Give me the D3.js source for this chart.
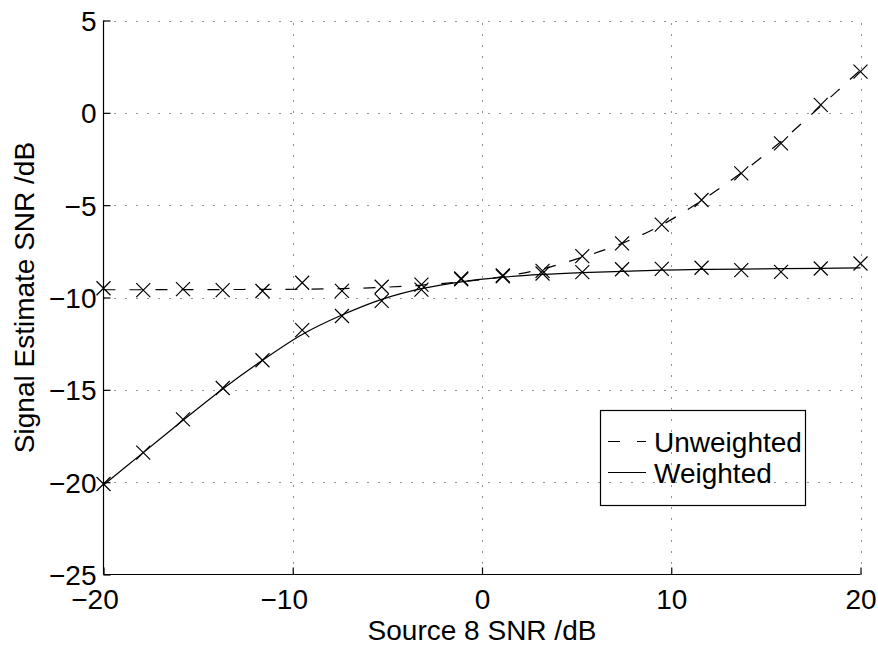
<!DOCTYPE html>
<html><head><meta charset="utf-8">
<script src="https://cdn.jsdelivr.net/npm/d3@7"></script>
<style>
body{margin:0;background:#fff}
svg{display:block}
text{font-family:"Liberation Sans",Arial,Helvetica,sans-serif;fill:#000}
</style>
</head><body>
<svg id="chart" width="878" height="645"></svg>
<script>
// ---- data ----
const sourceSNR = [-20, -17.9, -15.8, -13.7, -11.6, -9.5, -7.4, -5.3, -3.2, -1.1, 1.1, 3.2, 5.3, 7.4, 9.5, 11.6, 13.7, 15.8, 17.9, 20];
const unweightedPts = [-9.5, -9.6, -9.55, -9.6, -9.65, -9.2, -9.64, -9.42, -9.3, -8.97, -8.8, -8.56, -7.76, -7.07, -6.05, -4.72, -3.28, -1.65, 0.43, 2.23];
const weightedPts   = [-20.1, -18.4, -16.6, -14.9, -13.4, -11.77, -11.0, -10.18, -9.57, -9.02, -8.85, -8.7, -8.63, -8.47, -8.45, -8.39, -8.52, -8.61, -8.43, -8.16];
const unweightedFit = [-9.58, -9.58, -9.57, -9.57, -9.56, -9.55, -9.52, -9.45, -9.33, -9.15, -8.87, -8.45, -7.82, -7.07, -6.07, -4.75, -3.25, -1.55, 0.37, 2.32];
const weightedFit   = [-20.15, -18.4, -16.65, -14.95, -13.4, -12.0, -10.95, -10.1, -9.52, -9.15, -8.9, -8.75, -8.65, -8.58, -8.52, -8.48, -8.46, -8.44, -8.42, -8.4];
const xTicks = [-20, -10, 0, 10, 20];
const yTicks = [5, 0, -5, -10, -15, -20, -25];
const seriesNames = ["Unweighted", "Weighted"];
const xTitle = "Source 8 SNR /dB";
const yTitle = "Signal Estimate SNR /dB";

// ---- layout ----
const svg = d3.select("#chart");
const L = 103.5, R = 860.5, T = 20.5, B = 574.5;
const x = d3.scaleLinear().domain([-20, 20]).range([L, R]);
const y = d3.scaleLinear().domain([-25, 5]).range([B, T]);
const FS = 28;
const fmt = v => (v < 0 ? "\u2212" + Math.abs(v) : String(v));

// grid (dotted)
const grid = svg.append("g").attr("stroke", "#222").attr("stroke-width", 1).attr("stroke-dasharray", "1,10");
grid.selectAll("line.v").data(xTicks.filter(d => d > -20)).join("line")
  .attr("x1", d => Math.round(x(d)) + 0.5).attr("x2", d => Math.round(x(d)) + 0.5)
  .attr("y1", B).attr("y2", T);
grid.selectAll("line.h").data(yTicks.filter(d => d > -25)).join("line")
  .attr("y1", d => Math.round(y(d)) + 0.5).attr("y2", d => Math.round(y(d)) + 0.5)
  .attr("x1", L).attr("x2", R);

// axes via d3 axis generators
const xAxis = d3.axisBottom(x).tickValues(xTicks).tickSize(-7).tickPadding(0).tickFormat(fmt);
const yAxis = d3.axisLeft(y).tickValues(yTicks).tickSize(-7).tickPadding(0).tickFormat(fmt);

const gx = svg.append("g").attr("transform", `translate(0,${B})`).call(xAxis);
gx.select(".domain").attr("d", `M${L},0H${R}`).attr("stroke", "#000").attr("stroke-width", 1.2);
gx.selectAll(".tick line").attr("stroke", "#000").attr("stroke-width", 1.2);
gx.selectAll(".tick text").attr("font-size", FS).attr("font-family", "Liberation Sans, Arial, sans-serif")
  .attr("y", 34).attr("dy", 0).attr("dx", d => d < 0 ? -9 : 0).attr("fill", "#000");

const gy = svg.append("g").attr("transform", `translate(${L},0)`).call(yAxis);
gy.select(".domain").attr("d", `M0,${B}V${T}`).attr("stroke", "#000").attr("stroke-width", 1.2);
gy.selectAll(".tick line").attr("stroke", "#000").attr("stroke-width", 1.2);
gy.selectAll(".tick text").attr("font-size", FS).attr("font-family", "Liberation Sans, Arial, sans-serif")
  .attr("x", -7).attr("dy", 10).attr("fill", "#000");

// axis titles
svg.append("text").attr("x", (L + R) / 2).attr("y", 640).attr("text-anchor", "middle")
  .attr("font-size", FS).text(xTitle);
svg.append("text").attr("transform", `translate(34,${(T + B) / 2}) rotate(-90)`).attr("text-anchor", "middle")
  .attr("font-size", FS).text(yTitle);

// fitted curves
const line = d3.line().x((d, i) => x(sourceSNR[i])).y(d => y(d)).curve(d3.curveCatmullRom);
svg.append("path").datum(unweightedFit).attr("d", line).attr("fill", "none")
  .attr("stroke", "#000").attr("stroke-width", 1.2).attr("stroke-dasharray", "12,14");
svg.append("path").datum(weightedFit).attr("d", line).attr("fill", "none")
  .attr("stroke", "#000").attr("stroke-width", 1.2);

// x markers
const M = 7;
function crosses(vals) {
  const g = svg.append("g").attr("stroke", "#000").attr("stroke-width", 1.2).attr("fill", "none");
  g.selectAll("path").data(vals).join("path")
    .attr("d", (d, i) => {
      const cx = x(sourceSNR[i]), cy = y(d);
      return `M${cx - M},${cy - M}L${cx + M},${cy + M}M${cx - M},${cy + M}L${cx + M},${cy - M}`;
    });
}
crosses(unweightedPts);
crosses(weightedPts);

// legend
const lg = svg.append("g");
lg.append("rect").attr("x", 600.5).attr("y", 410.5).attr("width", 205).attr("height", 95)
  .attr("fill", "none").attr("stroke", "#000").attr("stroke-width", 1.2);
const rows = [{name: seriesNames[0], dash: "12,17", cy: 441.5}, {name: seriesNames[1], dash: null, cy: 472.5}];
rows.forEach(r => {
  lg.append("line").attr("x1", 608).attr("x2", 646).attr("y1", r.cy).attr("y2", r.cy)
    .attr("stroke", "#000").attr("stroke-width", 1.2).attr("stroke-dasharray", r.dash);
  lg.append("text").attr("x", 654).attr("y", r.cy + 10.5).attr("font-size", FS).text(r.name);
});
</script>
</body></html>
